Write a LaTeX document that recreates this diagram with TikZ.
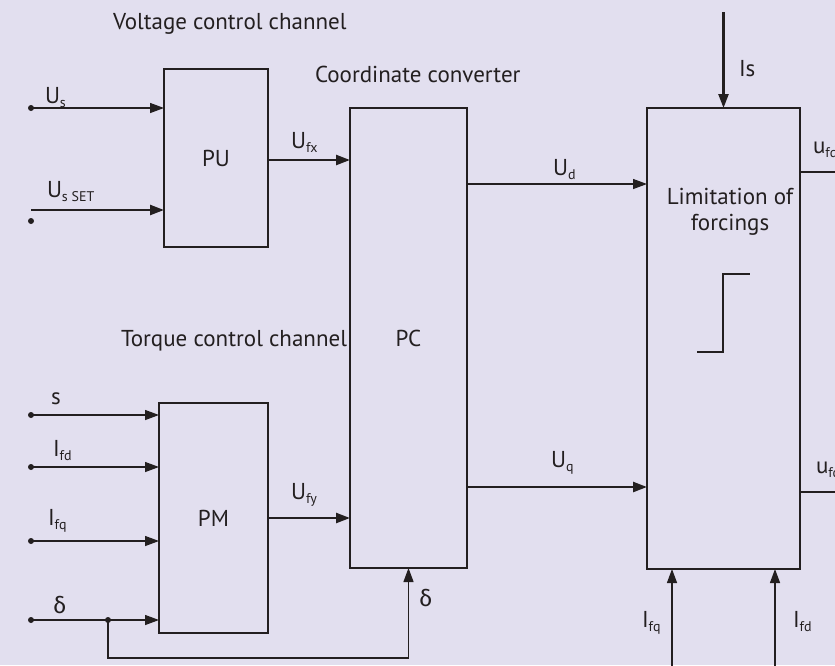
\documentclass[tikz,border=0pt]{standalone}
\usepackage{fontspec}
\setmainfont{PT Sans}
\newfontfamily\grk{Fira Sans}
\usetikzlibrary{arrows.meta}
\definecolor{bg}{HTML}{E2DFEF}
\definecolor{ink}{HTML}{231F20}
\newcommand{\sbs}[1]{\raisebox{-4pt}{\fontsize{14}{14}\selectfont #1}}
\begin{document}
\begin{tikzpicture}[x=1pt,y=-1pt,
  box/.style={draw=ink, line width=1.3pt, inner sep=0pt, outer sep=0pt, text=ink, font=\fontsize{23}{23}\selectfont},
  thinl/.style={draw=ink, line width=1.3pt},
  thickl/.style={draw=ink, line width=2.4pt},
  arr/.style={-{Triangle[length=14pt,width=10pt]}},
  lbl/.style={anchor=base west, inner sep=0pt, outer sep=0pt, text=ink, font=\fontsize{23}{23}\selectfont},
  dotc/.style={fill=ink}]
\fill[bg] (0,0) rectangle (835,665);
\useasboundingbox (0,0) rectangle (835,665);

% blocks
\node[box, minimum width=104pt, minimum height=178pt] (PU) at (216,158) {PU};
\node[box, minimum width=117pt, minimum height=460pt] (PC) at (408.5,338) {PC};
\node[box, minimum width=109pt, minimum height=230pt] (PM) at (213.5,518) {PM};
\node[box, minimum width=153pt, minimum height=461pt] (LF) at (723.5,338.5) {};

% captions
\node[lbl] (tV) at (113,29) {Voltage control channel};
\node[lbl] (tC) at (315,82) {Coordinate converter};
\node[lbl] (tT) at (121,346) {Torque control channel};
\node[lbl, anchor=base] (tL1) at (730,204) {Limitation of};
\node[lbl, anchor=base] (tL2) at (730,230) {forcings};

% step symbol
\coordinate (st1) at (697,352);
\coordinate (st2) at (723,352);
\coordinate (st3) at (723,274);
\coordinate (st4) at (750,274);
\draw[thinl] (st1) -- (st2) -- (st3) -- (st4);

% inputs of PU
\coordinate (us) at (31,108);
\coordinate (usset) at (31,210);
\coordinate (ussetdot) at (31,221);
\draw[thinl, arr] (us) -- (PU.west |- us);
\fill[dotc] (us) circle (3pt);
\draw[thickl, arr] (usset) -- (PU.west |- usset);
\fill[dotc] (ussetdot) circle (3pt);
\node[lbl] (lUs) at (45,103) {U\sbs{s}};
\node[lbl] (lUsset) at (47,197) {U\sbs{s SET}};

% PU -> PC
\coordinate (ufx) at (268,160);
\draw[thickl, arr] (PU.east |- ufx) -- (PC.west |- ufx);
\node[lbl] (lUfx) at (291,148) {U\sbs{fx}};

% inputs of PM
\coordinate (is) at (31,415);
\coordinate (ifd) at (31,467);
\coordinate (ifq) at (31,541);
\coordinate (de) at (31,620);
\coordinate (jn) at (108,620);
\coordinate (fb1) at (108,658);
\coordinate (fb2) at (408.5,658);
\foreach \c in {is,ifd,ifq,de} {
  \draw[thinl, arr] (\c) -- (PM.west |- \c);
  \fill[dotc] (\c) circle (3pt);
}
\fill[dotc] (jn) circle (3pt);
\draw[thinl, arr] (jn) -- (fb1) -- (fb2) -- (PC.south);
\node[lbl] (ls) at (51,404) {s};
\node[lbl] (lIfd) at (53,456) {I\sbs{fd}};
\node[lbl] (lIfq) at (48,525) {I\sbs{fq}};
\node[lbl] (ld) at (53,613) {\grk δ};
\node[lbl] (ld2) at (419,606) {\grk δ};

% PM -> PC
\coordinate (ufy) at (268,518);
\draw[thickl, arr] (PM.east |- ufy) -- (PC.west |- ufy);
\node[lbl] (lUfy) at (291,499) {U\sbs{fy}};

% PC -> LF
\coordinate (ud) at (468,184);
\coordinate (uq) at (468,487);
\draw[thinl, arr] (PC.east |- ud) -- (LF.west |- ud);
\draw[thickl, arr] (PC.east |- uq) -- (LF.west |- uq);
\node[lbl] (lUd) at (553,175) {U\sbs{d}};
\node[lbl] (lUq) at (551,467) {U\sbs{q}};

% Is
\coordinate (isTop) at (723.5,12);
\draw[thickl, arr] (isTop) -- (LF.north);
\node[lbl] (lIs) at (739,76) {Is};

% outputs
\coordinate (o1) at (840,172);
\coordinate (o2) at (840,492);
\draw[thickl] (LF.east |- o1) -- (o1);
\draw[thickl] (LF.east |- o2) -- (o2);
\node[lbl] (lo1) at (813,153) {u\sbs{fd}};
\node[lbl] (lo2) at (816,473) {u\sbs{fq}};

% bottom inputs
\coordinate (bq) at (672,670);
\coordinate (bd) at (775,670);
\draw[thinl, arr] (bq) -- (bq |- LF.south);
\draw[thinl, arr] (bd) -- (bd |- LF.south);
\node[lbl] (lbq) at (642,627) {I\sbs{fq}};
\node[lbl] (lbd) at (793,627) {I\sbs{fd}};
\end{tikzpicture}
\end{document}
